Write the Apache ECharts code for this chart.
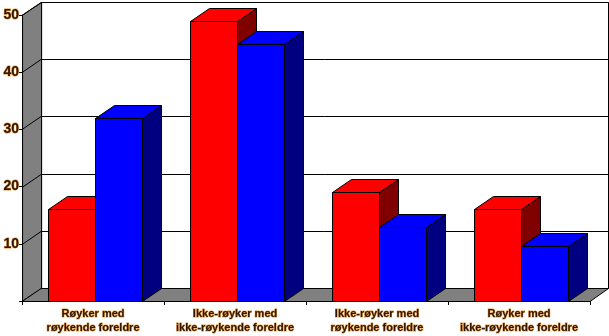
<!DOCTYPE html>
<html>
<head>
<meta charset="utf-8">
<script src="https://cdn.jsdelivr.net/npm/echarts@6/dist/echarts.min.js"></script>
<style>html,body{margin:0;padding:0;background:#fff}#c{width:609px;height:336px}</style>
</head>
<body>
<div id="c"></div>
<script>
var categories = ['Røyker med\nrøykende foreldre', 'Ikke-røyker med\nikke-røykende foreldre', 'Ikke-røyker med\nrøykende foreldre', 'Røyker med\nikke-røykende foreldre'];
var redValues = [16, 49, 19, 16];
var blueValues = [32, 45, 13, 9.7];
var yTicks = [10, 20, 30, 40, 50];

var DX = 19, DY = -13;
var frontColors = ['#ff0000', '#0000ff'];
var sideColors = ['#800000', '#000080'];

var barData = [];
for (var i = 0; i < categories.length; i++) {
  barData.push([i, redValues[i], 0]);
  barData.push([i, blueValues[i], 1]);
}

var chart = echarts.init(document.getElementById('c'), null, {renderer: 'canvas'});
var labelStyle = {
  color: '#2e1600',
  fontWeight: 'bold',
  textBorderColor: 'rgba(225,140,40,0.9)',
  textBorderWidth: 1
};
chart.setOption({
  animation: false,
  grid: {left: 20, right: 19, top: 15, bottom: 35},
  xAxis: {
    type: 'category',
    data: categories,
    boundaryGap: true,
    axisLine: {show: true, lineStyle: {color: '#000', width: 1}},
    axisTick: {show: true, length: 4, lineStyle: {color: '#000'}},
    axisLabel: Object.assign({
      interval: 0,
      margin: 6,
      fontSize: 11,
      lineHeight: 14,
      fontFamily: "'Liberation Sans', Arial, sans-serif"
    }, labelStyle),
    splitLine: {show: false}
  },
  yAxis: {
    type: 'value',
    min: 0, max: 50, interval: 10,
    axisLine: {show: true, lineStyle: {color: '#000', width: 1}},
    axisTick: {show: true, length: 3, lineStyle: {color: '#000'}},
    axisLabel: Object.assign({
      margin: 3,
      fontSize: 14,
      fontFamily: "'Liberation Sans', Arial, sans-serif",
      formatter: function (v) { return v === 0 ? '' : String(v); }
    }, labelStyle),
    splitLine: {show: false}
  },
  series: [
    {
      type: 'custom',
      z: 1,
      silent: true,
      data: [[0]],
      renderItem: function (params, api) {
        var cs = params.coordSys;
        var x0 = cs.x, x1 = cs.x + cs.width;
        var yb = api.coord([0, 0])[1];
        var yt = api.coord([0, 50])[1];
        var ch = [];
        ch.push({type: 'rect', shape: {x: x0 + DX + 0.5, y: yt + DY + 0.5, width: x1 - x0 - 1, height: yb - yt}, style: {fill: '#fff', stroke: '#000', lineWidth: 1}});
        ch.push({type: 'polygon', shape: {points: [[x0 + 0.5, yb], [x0 + DX + 0.5, yb + DY + 0.5], [x0 + DX + 0.5, yt + DY + 0.5], [x0 + 0.5, yt]]}, style: {fill: '#808080', stroke: '#000', lineWidth: 1}});
        ch.push({type: 'polygon', shape: {points: [[x0, yb + 0.5], [x1, yb + 0.5], [x1 + DX - 0.5, yb + DY + 0.5], [x0 + DX, yb + DY + 0.5]]}, style: {fill: '#808080', stroke: '#000', lineWidth: 1}});
        for (var k = 0; k < yTicks.length; k++) {
          var y = Math.round(api.coord([0, yTicks[k]])[1]) + 0.5;
          ch.push({type: 'line', shape: {x1: x0 + DX, y1: y + DY, x2: x1 + DX - 0.5, y2: y + DY}, style: {stroke: '#000', lineWidth: 1}});
          ch.push({type: 'line', shape: {x1: x0, y1: y, x2: x0 + DX, y2: y + DY}, style: {stroke: '#000', lineWidth: 1}});
        }
        return {type: 'group', children: ch};
      }
    },
    {
      type: 'custom',
      z: 2,
      data: barData,
      encode: {x: 0, y: 1},
      renderItem: function (params, api) {
        var cat = api.value(0), v = api.value(1), s = api.value(2);
        var base = api.coord([cat, 0]);
        var top = api.coord([cat, v]);
        var band = api.size([1, 0])[0];
        var bw = band * 0.33;
        var x0 = Math.round(base[0] + band * 0.016 - bw + s * bw) + 0.5;
        var x1 = Math.round(x0 + bw) + 0.5;
        var yb = Math.round(base[1]) + 0.5, yt = Math.round(top[1]) + 0.5;
        var st = {stroke: '#000', lineWidth: 1};
        return {type: 'group', children: [
          {type: 'polygon', shape: {points: [[x1, yb], [x1 + DX, yb + DY], [x1 + DX, yt + DY], [x1, yt]]}, style: Object.assign({fill: sideColors[s]}, st)},
          {type: 'polygon', shape: {points: [[x0, yt], [x1, yt], [x1 + DX, yt + DY], [x0 + DX, yt + DY]]}, style: Object.assign({fill: frontColors[s]}, st)},
          {type: 'rect', shape: {x: x0, y: yt, width: x1 - x0, height: yb - yt}, style: Object.assign({fill: frontColors[s]}, st)}
        ]};
      }
    }
  ]
});
</script>
</body>
</html>
